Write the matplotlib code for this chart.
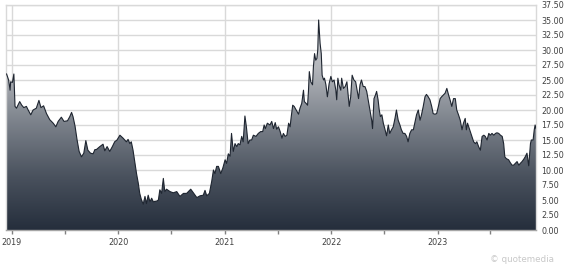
import matplotlib
matplotlib.use("Agg")
import matplotlib.pyplot as plt
import matplotlib.dates as mdates
import numpy as np
import pandas as pd
from matplotlib.colors import LinearSegmentedColormap
from matplotlib.patches import Polygon

# closing prices
dates = [
    "2018-12-14", "2018-12-21", "2018-12-26", "2018-12-28", "2019-01-03", "2019-01-08",
    "2019-01-12", "2019-01-17", "2019-01-22", "2019-01-28", "2019-02-04", "2019-02-11",
    "2019-02-20", "2019-02-26", "2019-03-07", "2019-03-15", "2019-03-26", "2019-04-04",
    "2019-04-11", "2019-04-20", "2019-04-30", "2019-05-11", "2019-05-23", "2019-06-01",
    "2019-06-09", "2019-06-20", "2019-06-29", "2019-07-11", "2019-07-19", "2019-07-25",
    "2019-07-30", "2019-08-06", "2019-08-13", "2019-08-20", "2019-08-28", "2019-09-05",
    "2019-09-12", "2019-09-19", "2019-09-28", "2019-10-07", "2019-10-13", "2019-10-18",
    "2019-10-30", "2019-11-10", "2019-11-16", "2019-11-24", "2019-12-03", "2019-12-12",
    "2019-12-20", "2019-12-28", "2020-01-07", "2020-01-18", "2020-01-29", "2020-02-04",
    "2020-02-10", "2020-02-15", "2020-02-21", "2020-02-27", "2020-03-04", "2020-03-10",
    "2020-03-15", "2020-03-21", "2020-03-27", "2020-04-02", "2020-04-07", "2020-04-13",
    "2020-04-19", "2020-04-25", "2020-04-30", "2020-05-12", "2020-05-18", "2020-05-23",
    "2020-05-29", "2020-06-04", "2020-06-09", "2020-06-15", "2020-06-27", "2020-07-08",
    "2020-07-20", "2020-07-31", "2020-08-12", "2020-08-23", "2020-09-06", "2020-09-15",
    "2020-09-27", "2020-10-08", "2020-10-19", "2020-10-25", "2020-10-31", "2020-11-09",
    "2020-11-17", "2020-11-23", "2020-11-28", "2020-12-04", "2020-12-10", "2020-12-18",
    "2020-12-25", "2021-01-02", "2021-01-07", "2021-01-13", "2021-01-19", "2021-01-24",
    "2021-01-30", "2021-02-05", "2021-02-11", "2021-02-16", "2021-02-22", "2021-02-28",
    "2021-03-05", "2021-03-11", "2021-03-16", "2021-03-22", "2021-03-28", "2021-04-03",
    "2021-04-09", "2021-04-18", "2021-04-26", "2021-05-04", "2021-05-11", "2021-05-16",
    "2021-05-20", "2021-05-27", "2021-06-05", "2021-06-11", "2021-06-17", "2021-06-23",
    "2021-06-28", "2021-07-04", "2021-07-10", "2021-07-16", "2021-07-21", "2021-07-27",
    "2021-08-02", "2021-08-08", "2021-08-13", "2021-08-17", "2021-08-22", "2021-08-27",
    "2021-09-03", "2021-09-11", "2021-09-16", "2021-09-22", "2021-09-28", "2021-10-01",
    "2021-10-07", "2021-10-12", "2021-10-15", "2021-10-18", "2021-10-23", "2021-10-29",
    "2021-11-01", "2021-11-05", "2021-11-09", "2021-11-13", "2021-11-16", "2021-11-19",
    "2021-11-24", "2021-11-28", "2021-12-01", "2021-12-06", "2021-12-09", "2021-12-14",
    "2021-12-19", "2021-12-25", "2021-12-31", "2022-01-05", "2022-01-11", "2022-01-17",
    "2022-01-20", "2022-01-24", "2022-01-28", "2022-02-03", "2022-02-06", "2022-02-12",
    "2022-02-18", "2022-02-24", "2022-03-01", "2022-03-04", "2022-03-09", "2022-03-14",
    "2022-03-20", "2022-03-26", "2022-03-31", "2022-04-05", "2022-04-10", "2022-04-15",
    "2022-04-21", "2022-04-27", "2022-05-03", "2022-05-09", "2022-05-14", "2022-05-20",
    "2022-05-23", "2022-05-28", "2022-06-02", "2022-06-06", "2022-06-11", "2022-06-15",
    "2022-06-19", "2022-06-24", "2022-06-29", "2022-07-04", "2022-07-10", "2022-07-16",
    "2022-07-21", "2022-07-27", "2022-08-02", "2022-08-08", "2022-08-13", "2022-08-19",
    "2022-08-25", "2022-08-30", "2022-09-05", "2022-09-11", "2022-09-17", "2022-09-22",
    "2022-09-28", "2022-10-04", "2022-10-10", "2022-10-15", "2022-10-21", "2022-10-27",
    "2022-11-02", "2022-11-07", "2022-11-13", "2022-11-19", "2022-11-24", "2022-11-30",
    "2022-12-06", "2022-12-12", "2022-12-17", "2022-12-23", "2022-12-29", "2023-01-04",
    "2023-01-10", "2023-01-15", "2023-01-21", "2023-01-27", "2023-02-02", "2023-02-08",
    "2023-02-13", "2023-02-19", "2023-02-25", "2023-03-03", "2023-03-08", "2023-03-14",
    "2023-03-20", "2023-03-26", "2023-03-31", "2023-04-06", "2023-04-10", "2023-04-14",
    "2023-04-18", "2023-04-23", "2023-04-29", "2023-05-05", "2023-05-11", "2023-05-16",
    "2023-05-22", "2023-05-28", "2023-06-03", "2023-06-09", "2023-06-14", "2023-06-20",
    "2023-06-26", "2023-07-01", "2023-07-07", "2023-07-13", "2023-07-19", "2023-07-24",
    "2023-07-30", "2023-08-05", "2023-08-11", "2023-08-16", "2023-08-20", "2023-08-25",
    "2023-09-02", "2023-09-08", "2023-09-14", "2023-09-19", "2023-09-25", "2023-10-01",
    "2023-10-07", "2023-10-12", "2023-10-18", "2023-10-24", "2023-10-29", "2023-11-04",
    "2023-11-10", "2023-11-16", "2023-11-19", "2023-11-25", "2023-11-29", "2023-12-02",
    "2023-12-05",
]
prices = [
    26.0, 25.0, 23.3, 24.7, 24.6, 26.0,
    20.6, 20.3, 20.8, 21.4, 20.8, 20.4,
    20.6, 20.0, 19.2, 20.0, 20.3, 21.6,
    20.4, 20.7, 19.4, 18.4, 17.8, 17.2,
    18.1, 18.8, 18.1, 18.2, 18.9, 19.6,
    18.9, 17.3, 15.0, 13.1, 12.2, 12.8,
    14.9, 13.3, 12.8, 12.7, 13.4, 13.4,
    13.9, 14.3, 13.2, 13.9, 13.1, 13.9,
    14.7, 15.0, 15.8, 15.3, 14.7, 15.1,
    14.4, 14.7, 13.3, 11.4, 9.4, 7.8,
    6.1, 5.0, 4.3, 5.6, 4.4, 5.8,
    4.7, 5.3, 4.7, 4.8, 5.0, 6.7,
    6.1, 8.6, 6.4, 6.8, 6.4, 6.2,
    6.4, 5.6, 6.1, 6.1, 6.8, 6.2,
    5.4, 5.7, 5.8, 6.6, 5.7, 6.1,
    8.1, 10.0, 9.4, 10.6, 10.6, 9.4,
    10.3, 11.7, 11.1, 12.7, 12.3, 16.1,
    13.1, 14.4, 13.9, 14.4, 14.2, 15.6,
    14.7, 19.0, 17.2, 14.4, 15.0, 15.0,
    15.8, 15.6, 16.1, 16.4, 16.4, 17.5,
    16.9, 17.8, 17.5, 18.1, 16.9, 17.9,
    16.8, 17.2, 16.4, 15.3, 16.1, 15.6,
    15.8, 17.8, 17.2, 18.9, 20.8, 20.6,
    20.0, 19.3, 20.3, 21.1, 23.3, 21.4,
    21.1, 20.8, 23.1, 26.4, 24.7, 24.2,
    27.2, 29.4, 28.3, 28.6, 30.0, 35.0,
    31.1, 29.4, 25.8, 25.0, 25.3, 24.2,
    22.2, 24.4, 25.6, 24.7, 25.0, 23.3,
    21.7, 25.3, 24.2, 23.3, 25.3, 23.6,
    23.9, 24.7, 22.2, 20.6, 22.2, 25.8,
    25.0, 24.7, 23.3, 21.9, 24.2, 25.0,
    23.9, 23.9, 23.1, 21.4, 20.0, 18.3,
    16.9, 21.9, 22.5, 23.1, 21.7, 20.0,
    18.9, 19.2, 17.8, 16.9, 15.7, 17.5,
    16.1, 16.7, 17.2, 18.6, 20.0, 18.3,
    17.5, 16.7, 16.1, 16.1, 15.6, 14.7,
    16.1, 16.7, 16.7, 17.8, 19.2, 20.0,
    18.3, 19.2, 20.6, 22.2, 22.6, 22.2,
    21.7, 20.6, 19.4, 19.3, 19.4, 20.6,
    21.9, 22.2, 22.5, 22.8, 23.6, 22.5,
    21.7, 20.6, 21.9, 21.9, 20.0, 19.2,
    18.3, 16.7, 17.8, 18.6, 16.7, 17.8,
    17.2, 16.4, 15.6, 14.7, 14.4, 14.7,
    13.9, 13.3, 15.6, 15.8, 15.6, 15.0,
    16.1, 15.8, 16.1, 15.8, 16.1, 16.2,
    16.1, 15.8, 15.6, 14.4, 12.2, 11.9,
    11.7, 11.2, 10.8, 10.8, 11.1, 11.4,
    10.8, 11.1, 11.4, 11.8, 12.2, 12.8,
    10.7, 14.4, 15.0, 15.0, 16.7, 17.5,
    16.9,
]
y_ticks = [0, 2.5, 5, 7.5, 10, 12.5, 15, 17.5, 20, 22.5, 25, 27.5, 30, 32.5, 35, 37.5]
years = ["2019", "2020", "2021", "2022", "2023"]
half_years = ["2019-07-01", "2020-07-01", "2021-07-01", "2022-07-01", "2023-07-01"]

t = mdates.date2num(pd.to_datetime(dates))
p = np.array(prices)

fig = plt.figure(figsize=(5.66, 2.66), dpi=100)
ax = fig.add_axes([6 / 566, 36 / 266, 530 / 566, 225 / 266])

x0 = mdates.date2num(pd.Timestamp("2018-12-12"))
x1 = mdates.date2num(pd.Timestamp("2023-12-05"))
ax.set_xlim(x0, x1)
ax.set_ylim(0, 37.5)

# grid
grid_c = "#d9d9d9"
for v in y_ticks[1:]:
    ax.axhline(v, color=grid_c, lw=1, zorder=0)
year_nums = mdates.date2num(pd.to_datetime([y + "-01-01" for y in years]))
for xv in year_nums:
    ax.axvline(xv, color=grid_c, lw=1, zorder=0)

# gradient fill under the price line
cmap = LinearSegmentedColormap.from_list(
    "g", ["#252e3c", "#4a525e", "#7c828b", "#b3b6bb", "#d4d6d8"])
grad = np.linspace(0, 1, 256).reshape(-1, 1)
img = ax.imshow(grad, cmap=cmap, aspect="auto", origin="lower",
                extent=[x0, x1, 0, 36], zorder=1)
verts = np.column_stack([np.r_[t[0], t, t[-1]], np.r_[0, p, 0]])
poly = Polygon(verts, closed=True, facecolor="none", edgecolor="none")
ax.add_patch(poly)
img.set_clip_path(poly)
ax.plot(t, p, color="#1e2530", lw=0.8, zorder=3)

# axes styling
for side in ["left", "top", "right"]:
    ax.spines[side].set_color(grid_c)
    ax.spines[side].set_linewidth(1)
ax.spines["bottom"].set_color("#a6a6a6")
ax.spines["bottom"].set_linewidth(1)
ax.spines["bottom"].set_zorder(4)

ax.yaxis.tick_right()
ax.set_yticks(y_ticks)
ax.set_yticklabels(["%.2f" % v for v in y_ticks])
ax.tick_params(axis="y", length=0, pad=4, labelsize=5.8, labelcolor="#404040")

ax.set_xticks(year_nums)
ax.set_xticklabels(years)
ax.set_xticks(mdates.date2num(pd.to_datetime(half_years)), minor=True)
ax.tick_params(axis="x", which="both", length=3, width=1, color="#808080",
               labelsize=5.8, labelcolor="#404040", pad=3)

fig.text(554 / 566, 7 / 266, "\u00a9 quotemedia", ha="right", va="center",
         fontsize=6.3, color="#c8c8c8")

fig.savefig("out.png", dpi=100)
